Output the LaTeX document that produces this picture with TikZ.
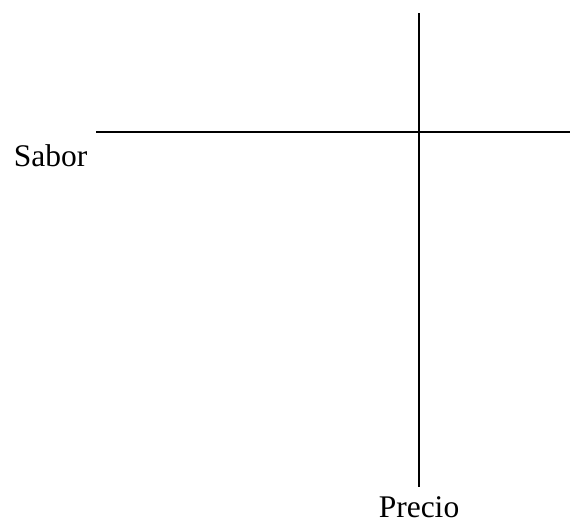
\documentclass[tikz,border=0pt]{standalone}
\usepackage{fontspec}
\setmainfont{Liberation Serif}
\begin{document}
\begin{tikzpicture}[x=1pt,y=-1pt,
  axis/.style={line width=2pt},
  lbl/.style={inner sep=0pt,anchor=base,font=\fontsize{31.5}{36}\selectfont}]
\useasboundingbox (0,0) rectangle (570,523);
\coordinate (vt) at (418.5,13);
\coordinate (vb) at (418.5,487);
\coordinate (hl) at (96,131.5);
\coordinate (hr) at (570,131.5);
\draw[axis] (vt) -- (vb);
\draw[axis] (hl) -- (hr);
\node[lbl] (sabor) at (50.5,166) {Sabor};
\node[lbl] (precio) at (419,517) {Precio};
\end{tikzpicture}
\end{document}
